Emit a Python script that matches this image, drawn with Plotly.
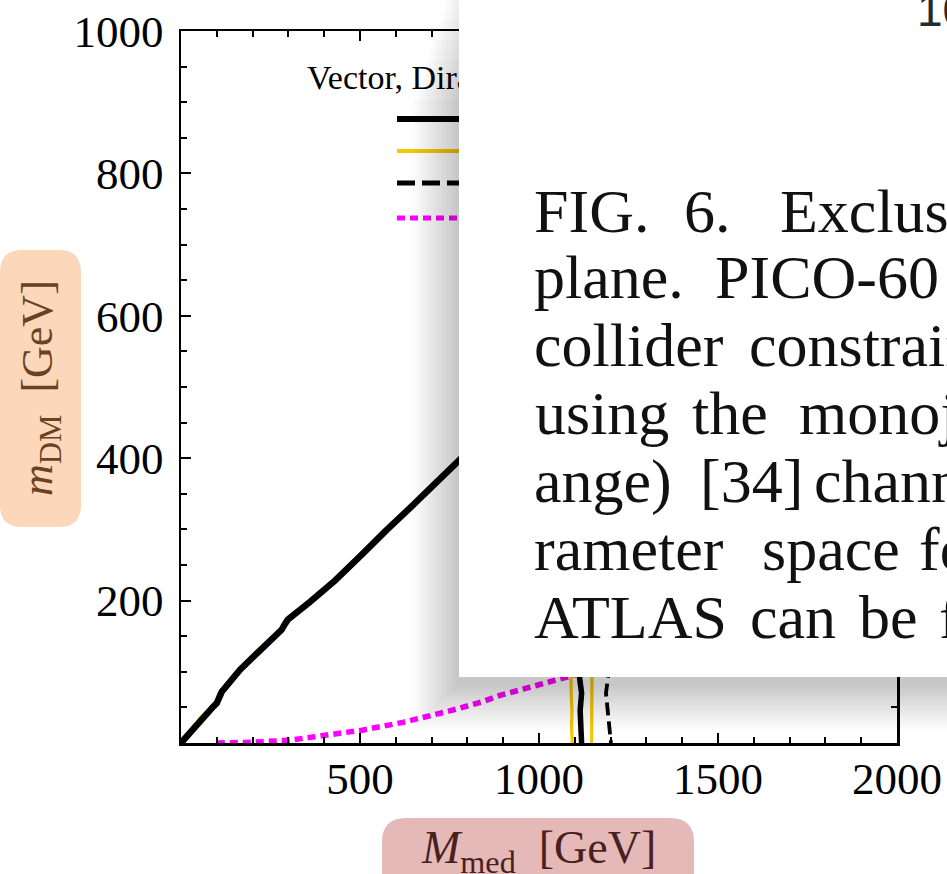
import plotly.graph_objects as go

# ---------------- data (GeV) ----------------
diag_M = [0, 53, 90, 100, 106, 114, 165, 221, 281, 290, 298, 360, 430, 500, 537, 574, 650, 700, 776, 820]
diag_m = [0, 32, 51, 56, 66, 72, 103, 131, 159, 167, 173, 198, 228, 262, 281, 299, 335, 360, 396, 418]

vert_m = [110, 93, 70, 46, 22, 0]
solid_vert_M = [1113, 1113, 1119, 1115, 1117, 1119]
yellow_lo_M = [1089, 1089, 1090, 1092, 1091, 1093]
yellow_hi_M = [1148, 1148, 1146, 1147, 1146, 1147]
dashed_vert_M = [1193, 1193, 1187, 1192, 1199, 1201]

magenta_M = [100, 200, 304, 400, 506, 620, 675, 750, 843, 891, 950, 1012, 1081, 1150]
magenta_m = [0, 1, 4, 10, 18, 29, 35, 45, 58, 67, 75, 83, 93, 104]

x_ticks = [500, 1000, 1500, 2000]
y_ticks = [200, 400, 600, 800, 1000]

legend_title = "Vector, Dirac"
caption_words = [
    ["FIG.", "6.", "Exclusion"],
    ["plane.", "PICO-60"],
    ["collider", "constraints"],
    ["using", "the", "monojet"],
    ["ange)", "[34]", "channels"],
    ["rameter", "space", "for"],
    ["ATLAS", "can", "be", "found"],
]

# ---------------- geometry helpers ----------------
W, H = 947, 874
L, R, T, B = 181, 50, 31, 131
PW, PH = W - L - R, H - T - B


def px(x):
    return (x - L) / PW


def py(y):
    return (H - B - y) / PH


def rounded(x0, y0, x1, y1, r):
    return (f"M {px(x0 + r)},{py(y0)} L {px(x1 - r)},{py(y0)} "
            f"Q {px(x1)},{py(y0)} {px(x1)},{py(y0 + r)} L {px(x1)},{py(y1 - r)} "
            f"Q {px(x1)},{py(y1)} {px(x1 - r)},{py(y1)} L {px(x0 + r)},{py(y1)} "
            f"Q {px(x0)},{py(y1)} {px(x0)},{py(y1 - r)} L {px(x0)},{py(y0 + r)} "
            f"Q {px(x0)},{py(y0)} {px(x0 + r)},{py(y0)} Z")


BLACK = "#000000"
YELLOW = "#F7C600"
MAGENTA = "#FF00FF"
SERIF = "Liberation Serif"

fig = go.Figure()

# yellow curves
fig.add_trace(go.Scatter(x=diag_M, y=[v + 2 for v in diag_m], mode="lines",
                         line=dict(color=YELLOW, width=4), hoverinfo="skip"))
fig.add_trace(go.Scatter(x=yellow_lo_M, y=vert_m, mode="lines",
                         line=dict(color=YELLOW, width=3.2), hoverinfo="skip"))
fig.add_trace(go.Scatter(x=yellow_hi_M, y=vert_m, mode="lines",
                         line=dict(color=YELLOW, width=3.2), hoverinfo="skip"))
# dashed black
fig.add_trace(go.Scatter(x=diag_M, y=diag_m, mode="lines",
                         line=dict(color=BLACK, width=4, dash="13px,6px"), hoverinfo="skip"))
fig.add_trace(go.Scatter(x=dashed_vert_M, y=vert_m, mode="lines",
                         line=dict(color=BLACK, width=3.8, dash="13px,6px"), hoverinfo="skip"))
# magenta dotted
fig.add_trace(go.Scatter(x=magenta_M, y=magenta_m, mode="lines",
                         line=dict(color=MAGENTA, width=5.5, dash="8px,5px"), hoverinfo="skip"))
# black solid
fig.add_trace(go.Scatter(x=diag_M, y=diag_m, mode="lines",
                         line=dict(color=BLACK, width=6.5), hoverinfo="skip"))
fig.add_trace(go.Scatter(x=solid_vert_M, y=vert_m, mode="lines",
                         line=dict(color=BLACK, width=5.5), hoverinfo="skip"))
# legend title (inside plot, covered by the pop-up)
fig.add_trace(go.Scatter(x=[352], y=[931], mode="text", text=[legend_title],
                         textposition="middle right", hoverinfo="skip",
                         textfont=dict(family=SERIF, size=34, color=BLACK)))

shapes = []
# axis title boxes
shapes.append(dict(type="path", xref="paper", yref="paper", layer="below",
                   path=rounded(0, 250, 81, 527, 22), fillcolor="#FCD7B9", line=dict(width=0)))
shapes.append(dict(type="path", xref="paper", yref="paper", layer="below",
                   path=rounded(382, 818, 694, 900, 24), fillcolor="#E5B9B8", line=dict(width=0)))
# legend samples
leg = [(119, BLACK, 6, "solid"), (151, YELLOW, 4, "solid"),
       (183, BLACK, 5, "18px,7px"), (218, MAGENTA, 5, "8px,5px")]
for yy, c, w, d in leg:
    shapes.append(dict(type="line", xref="paper", yref="paper", layer="above",
                       x0=px(397), x1=px(470), y0=py(yy), y1=py(yy),
                       line=dict(color=c, width=w, dash=d)))
# pop-up shadow
N = 14
for i in range(1, N + 1):
    e = 3.3 * i
    shapes.append(dict(type="rect", xref="paper", yref="paper", layer="above",
                       x0=px(459 - e), x1=px(1000), y0=py(-40 + 10 * i), y1=py(677 + 6 + e),
                       fillcolor="rgba(0,0,0,0.016)", line=dict(width=0)))
# pop-up box
shapes.append(dict(type="rect", xref="paper", yref="paper", layer="above",
                   x0=px(459), x1=px(1000), y0=py(-40), y1=py(677),
                   fillcolor="white", line=dict(width=0)))

annotations = []
word_x = [
    [532, 682, 778],
    [532, 713],
    [532, 747],
    [533, 690, 797],
    [532, 698, 812],
    [532, 760, 917],
    [532, 748, 857, 937],
]
baselines = [232, 298, 366, 434, 502, 570, 638]
FS = 62
for words, xs, bl in zip(caption_words, word_x, baselines):
    for w, xx in zip(words, xs):
        annotations.append(dict(text=w, xref="paper", yref="paper", x=px(xx), y=py(bl - 0.3375 * FS),
                                xanchor="left", yanchor="middle", showarrow=False,
                                font=dict(family=SERIF, size=FS, color="#111111")))
# corner heading fragment
annotations.append(dict(text="10", xref="paper", yref="paper", x=px(915), y=py(10),
                        xanchor="left", yanchor="middle", showarrow=False,
                        font=dict(family="Liberation Sans", size=46, color="#2A2A2A")))
# axis titles
annotations.append(dict(text="<i>m</i><sub>DM</sub>  [GeV]", xref="paper", yref="paper",
                        x=px(41), y=py(388), xanchor="center", yanchor="middle", textangle=-90,
                        showarrow=False, font=dict(family=SERIF, size=44, color="#6A4222")))
annotations.append(dict(text="<i>M</i><sub>med</sub>  [GeV]", xref="paper", yref="paper",
                        x=px(538), y=py(851), xanchor="center", yanchor="middle",
                        showarrow=False, font=dict(family=SERIF, size=46, color="#4A1F1F")))

axis_common = dict(showline=True, linecolor=BLACK, linewidth=2.5, mirror="ticks",
                   ticks="inside", ticklen=10, tickwidth=2, tickcolor=BLACK,
                   showgrid=False, zeroline=False, automargin=False,
                   tickfont=dict(family=SERIF, size=45, color=BLACK))

fig.update_layout(
    width=W, height=H, margin=dict(l=L, r=R, t=T, b=B, autoexpand=False),
    paper_bgcolor="white", plot_bgcolor="white", showlegend=False,
    xaxis=dict(range=[0, 2000], tickmode="array", tickvals=x_ticks,
               ticktext=[str(v) for v in x_ticks], ticklabelstandoff=-6,
               minor=dict(tickmode="linear", tick0=0, dtick=100, ticks="inside",
                          ticklen=6, tickwidth=2, tickcolor=BLACK, showgrid=False),
               **axis_common),
    yaxis=dict(range=[0, 1000], tickmode="array", tickvals=y_ticks,
               ticktext=[str(v) for v in y_ticks], ticklabelstandoff=6,
               minor=dict(tickmode="linear", tick0=0, dtick=50, ticks="inside",
                          ticklen=6, tickwidth=2, tickcolor=BLACK, showgrid=False),
               **axis_common),
    shapes=shapes, annotations=annotations,
)

fig.write_html(
    "out.html",
    config={"displayModeBar": False, "staticPlot": True},
    post_script=("document.documentElement.style.margin='0';"
                 "document.body.style.margin='0';"
                 "document.documentElement.style.overflow='hidden';"
                 "document.body.style.overflow='hidden';"),
)
